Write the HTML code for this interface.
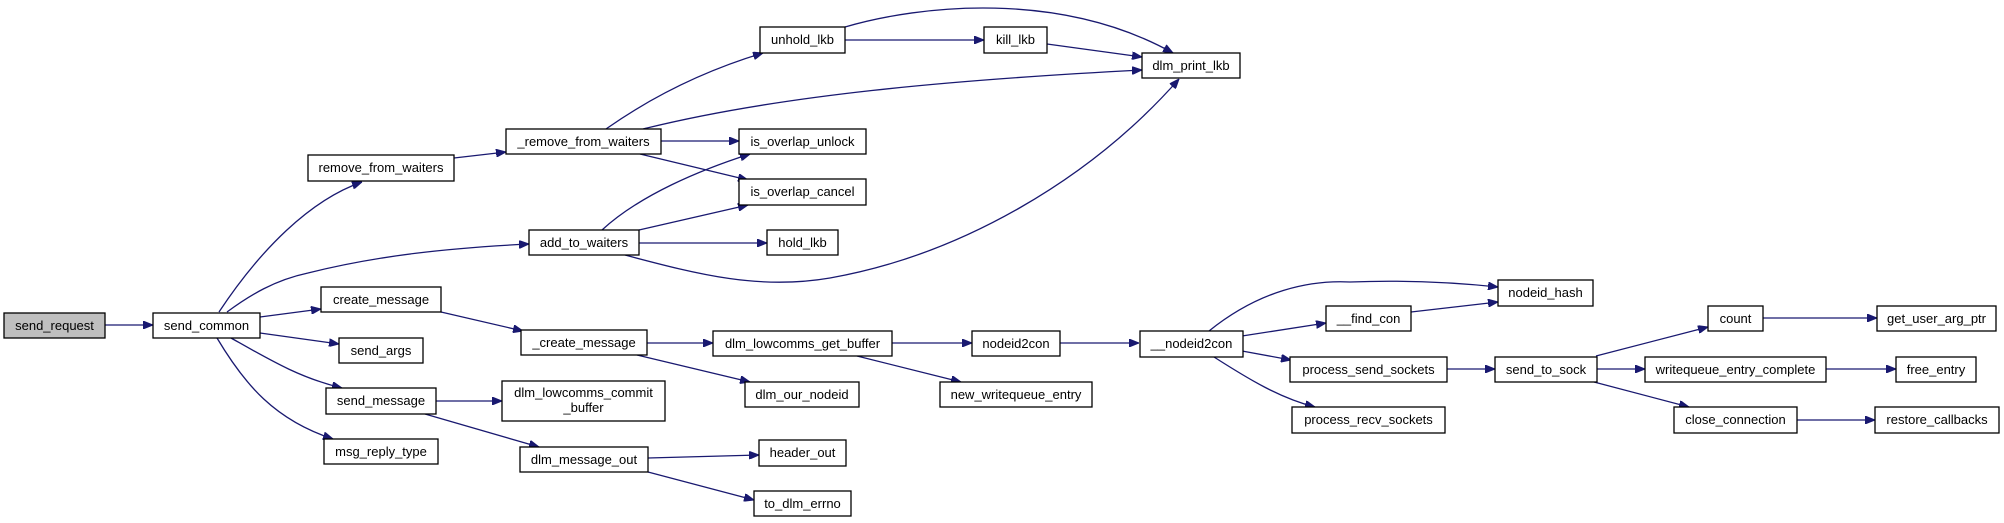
<!DOCTYPE html>
<html><head><meta charset="utf-8"><style>
html,body{margin:0;padding:0;background:#fff;}
svg{display:block;}
text{font-family:"Liberation Sans",Helvetica,Arial,sans-serif;font-size:13px;fill:#000;text-anchor:middle;}
.b{fill:#fff;stroke:#000;stroke-width:1.3;}
.e{fill:none;stroke:#191970;stroke-width:1.3;marker-end:url(#a);}
</style></head><body>
<svg width="2004" height="523" viewBox="0 0 2004 523" xmlns="http://www.w3.org/2000/svg">
<defs><marker id="a" markerWidth="10" markerHeight="8" refX="10" refY="4" orient="auto" markerUnits="userSpaceOnUse"><path d="M0,0 L10,4 L0,8 Z" fill="#191970" stroke="#191970" stroke-width="1"/></marker></defs>
<!-- edges -->
<path class="e" d="M105,325 L153,325"/>
<path class="e" d="M219,312 C260,250 310,200 362,182"/>
<path class="e" d="M227,312 C250,295 275,280 308,273 C380,255 450,248 529,244"/>
<path class="e" d="M260,317 L321,309"/>
<path class="e" d="M260,333 L339,344"/>
<path class="e" d="M231,338 C270,360 300,378 342,388"/>
<path class="e" d="M217,338 C245,385 275,420 333,439"/>
<path class="e" d="M454,158 L506,152"/>
<path class="e" d="M441,312 L523,331"/>
<path class="e" d="M436,401 L502,401"/>
<path class="e" d="M425,414 L539,447"/>
<path class="e" d="M606,129 C650,98 700,72 763,53"/>
<path class="e" d="M643,129 C780,95 950,80 1142,70"/>
<path class="e" d="M661,141 L739,141"/>
<path class="e" d="M640,154 L748,180"/>
<path class="e" d="M602,230 C640,195 700,170 750,154"/>
<path class="e" d="M639,230 L748,205"/>
<path class="e" d="M639,243 L767,243"/>
<path class="e" d="M625,255 C700,275 760,290 830,278 C960,255 1090,180 1179,79"/>
<path class="e" d="M845,40 L984,40"/>
<path class="e" d="M845,27 C920,5 1060,-10 1173,53"/>
<path class="e" d="M1047,44 L1142,57"/>
<path class="e" d="M647,343 L713,343"/>
<path class="e" d="M637,355 L750,382"/>
<path class="e" d="M857,356 L961,382"/>
<path class="e" d="M892,343 L972,343"/>
<path class="e" d="M1060,343 L1139,343"/>
<path class="e" d="M1209,331 C1260,290 1310,280 1350,282 C1400,280 1450,282 1498,287"/>
<path class="e" d="M1242,336 L1326,323"/>
<path class="e" d="M1242,351 L1291,360"/>
<path class="e" d="M1214,357 C1250,380 1280,398 1315,407"/>
<path class="e" d="M1411,312 L1498,302"/>
<path class="e" d="M1447,369 L1495,369"/>
<path class="e" d="M1596,356 L1708,327"/>
<path class="e" d="M1597,369 L1645,369"/>
<path class="e" d="M1594,382 L1689,407"/>
<path class="e" d="M1763,318 L1877,318"/>
<path class="e" d="M1826,369 L1896,369"/>
<path class="e" d="M1797,420 L1875,420"/>
<path class="e" d="M648,458 L759,455"/>
<path class="e" d="M648,472 L754,500"/>
<!-- nodes -->
<rect x="4" y="313" width="101" height="25" style="fill:#bfbfbf;stroke:#000;stroke-width:1.3"/><text x="54.5" y="330">send_request</text>
<rect class="b" x="153" y="313" width="107" height="25"/><text x="206.5" y="330">send_common</text>
<rect class="b" x="308" y="155" width="146" height="26"/><text x="381" y="172">remove_from_waiters</text>
<rect class="b" x="506" y="129" width="155" height="25"/><text x="583.5" y="146">_remove_from_waiters</text>
<rect class="b" x="529" y="230" width="110" height="25"/><text x="584" y="247">add_to_waiters</text>
<rect class="b" x="321" y="287" width="120" height="25"/><text x="381" y="304">create_message</text>
<rect class="b" x="339" y="338" width="84" height="25"/><text x="381" y="355">send_args</text>
<rect class="b" x="521" y="330" width="126" height="25"/><text x="584" y="347">_create_message</text>
<rect class="b" x="326" y="388" width="110" height="26"/><text x="381" y="405">send_message</text>
<rect class="b" x="502" y="381" width="163" height="40"/><text x="583.5" y="397">dlm_lowcomms_commit</text><text x="583.5" y="412">_buffer</text>
<rect class="b" x="324" y="439" width="114" height="25"/><text x="381" y="456">msg_reply_type</text>
<rect class="b" x="520" y="447" width="128" height="25"/><text x="584" y="464">dlm_message_out</text>
<rect class="b" x="760" y="27" width="85" height="26"/><text x="802.5" y="44">unhold_lkb</text>
<rect class="b" x="984" y="27" width="63" height="26"/><text x="1015.5" y="44">kill_lkb</text>
<rect class="b" x="1142" y="53" width="98" height="25"/><text x="1191" y="70">dlm_print_lkb</text>
<rect class="b" x="739" y="129" width="127" height="25"/><text x="802.5" y="146">is_overlap_unlock</text>
<rect class="b" x="739" y="179" width="127" height="26"/><text x="802.5" y="196">is_overlap_cancel</text>
<rect class="b" x="767" y="230" width="71" height="25"/><text x="802.5" y="247">hold_lkb</text>
<rect class="b" x="713" y="331" width="179" height="25"/><text x="802.5" y="348">dlm_lowcomms_get_buffer</text>
<rect class="b" x="972" y="331" width="88" height="25"/><text x="1016" y="348">nodeid2con</text>
<rect class="b" x="1140" y="331" width="103" height="26"/><text x="1191.5" y="348">__nodeid2con</text>
<rect class="b" x="745" y="382" width="114" height="25"/><text x="802" y="399">dlm_our_nodeid</text>
<rect class="b" x="940" y="382" width="152" height="25"/><text x="1016" y="399">new_writequeue_entry</text>
<rect class="b" x="759" y="440" width="87" height="26"/><text x="802.5" y="457">header_out</text>
<rect class="b" x="754" y="491" width="97" height="25"/><text x="802.5" y="508">to_dlm_errno</text>
<rect class="b" x="1498" y="280" width="95" height="26"/><text x="1545.5" y="297">nodeid_hash</text>
<rect class="b" x="1326" y="306" width="85" height="25"/><text x="1368.5" y="323">__find_con</text>
<rect class="b" x="1290" y="357" width="157" height="25"/><text x="1368.5" y="374">process_send_sockets</text>
<rect class="b" x="1292" y="407" width="153" height="26"/><text x="1368.5" y="424">process_recv_sockets</text>
<rect class="b" x="1495" y="357" width="102" height="25"/><text x="1546" y="374">send_to_sock</text>
<rect class="b" x="1708" y="306" width="55" height="25"/><text x="1735.5" y="323">count</text>
<rect class="b" x="1877" y="306" width="119" height="25"/><text x="1936.5" y="323">get_user_arg_ptr</text>
<rect class="b" x="1645" y="357" width="181" height="25"/><text x="1735.5" y="374">writequeue_entry_complete</text>
<rect class="b" x="1896" y="357" width="80" height="25"/><text x="1936" y="374">free_entry</text>
<rect class="b" x="1674" y="407" width="123" height="26"/><text x="1735.5" y="424">close_connection</text>
<rect class="b" x="1875" y="407" width="124" height="26"/><text x="1937" y="424">restore_callbacks</text>
</svg>
</body></html>
